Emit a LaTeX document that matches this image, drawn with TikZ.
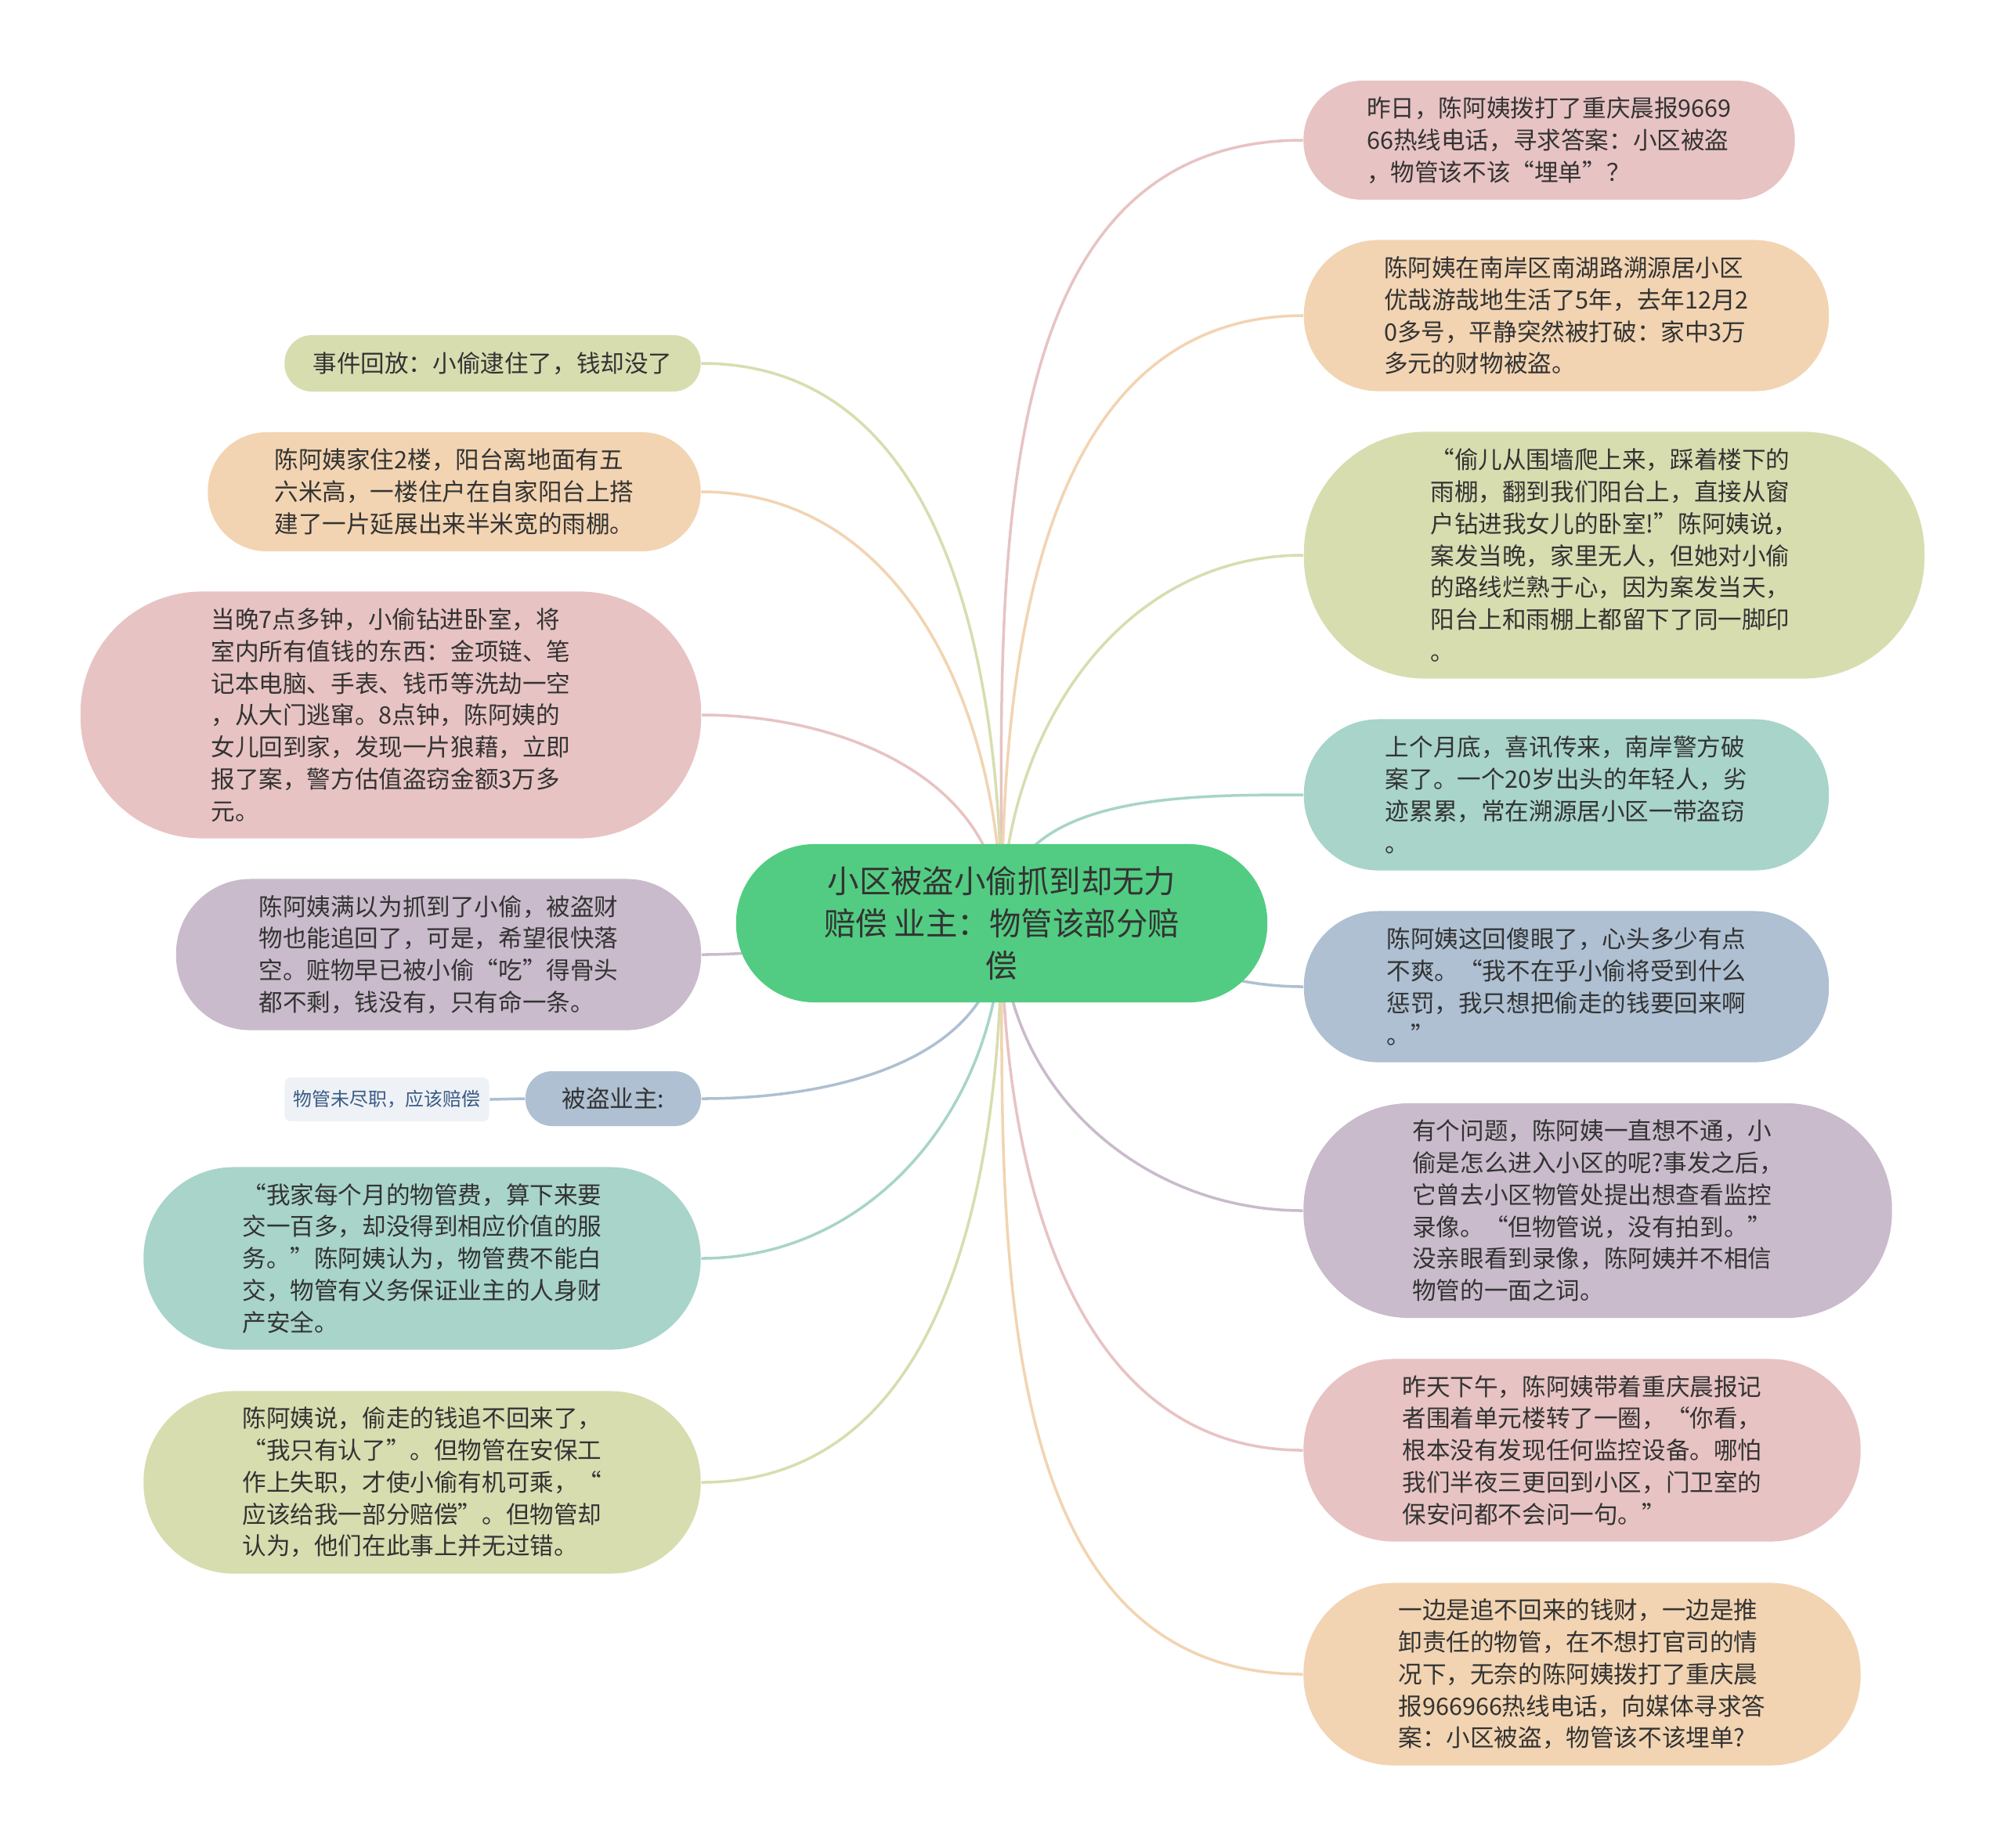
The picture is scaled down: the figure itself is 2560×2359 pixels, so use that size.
\documentclass[tikz,border=0pt]{standalone}
\usepackage{fontspec}
\setmainfont{Noto Sans CJK SC}
\usetikzlibrary{backgrounds}

\definecolor{rootgreen}{HTML}{52CC82}
\definecolor{tpink}{HTML}{E8C3C3}
\definecolor{tpeach}{HTML}{F2D4B2}
\definecolor{tolive}{HTML}{D8DDB0}
\definecolor{tteal}{HTML}{A8D4CA}
\definecolor{tblue}{HTML}{AEC0D2}
\definecolor{tlilac}{HTML}{C9BBCB}
\definecolor{tnote}{HTML}{EEF2F6}
\definecolor{tnotetext}{HTML}{3B5B85}
\definecolor{tink}{HTML}{333333}

\begin{document}
\begin{tikzpicture}[x=0.01cm, y=-0.01cm,
    bubble/.style={rectangle, fill=#1, text=tink, align=left, inner sep=0pt,
      font=\fontsize{8.7pt}{11.6pt}\selectfont},
    link/.style={draw=#1, line width=1pt}]
    \useasboundingbox (0,0) rectangle (2560,2359);

    % Central topic
    \node[bubble=rootgreen, align=center, minimum width=6.78cm, minimum height=2.02cm,
      rounded corners=1.0cm, font=\fontsize{11.5pt}{15.3pt}\selectfont] (root) at (1279,1179)
      {小区被盗小偷抓到却无力\\赔偿 业主：物管该部分赔\\偿};

    % Right branches
    \node[bubble=tpink, minimum width=6.27cm, minimum height=1.52cm, rounded corners=0.75cm] (r1) at (1978,179)
      {昨日，陈阿姨拨打了重庆晨报9669\\66热线电话，寻求答案：小区被盗\\，物管该不该“埋单”？};
    \node[bubble=tpeach, minimum width=6.70cm, minimum height=1.93cm, rounded corners=0.95cm] (r2) at (2000,403)
      {陈阿姨在南岸区南湖路溯源居小区\\优哉游哉地生活了5年，去年12月2\\0多号，平静突然被打破：家中3万\\多元的财物被盗。};
    \node[bubble=tolive, minimum width=7.92cm, minimum height=3.15cm, rounded corners=1.55cm] (r3) at (2061,709)
      {“偷儿从围墙爬上来，踩着楼下的\\雨棚，翻到我们阳台上，直接从窗\\户钻进我女儿的卧室!”陈阿姨说，\\案发当晚，家里无人，但她对小偷\\的路线烂熟于心，因为案发当天，\\阳台上和雨棚上都留下了同一脚印\\。};
    \node[bubble=tteal, minimum width=6.70cm, minimum height=1.93cm, rounded corners=0.95cm] (r4) at (2000,1015)
      {上个月底，喜讯传来，南岸警方破\\案了。一个20岁出头的年轻人，劣\\迹累累，常在溯源居小区一带盗窃\\。};
    \node[bubble=tblue, minimum width=6.70cm, minimum height=1.93cm, rounded corners=0.95cm] (r5) at (2000,1260)
      {陈阿姨这回傻眼了，心头多少有点\\不爽。“我不在乎小偷将受到什么\\惩罚，我只想把偷走的钱要回来啊\\。”};
    \node[bubble=tlilac, minimum width=7.51cm, minimum height=2.74cm, rounded corners=1.35cm] (r6) at (2040,1546)
      {有个问题，陈阿姨一直想不通，小\\偷是怎么进入小区的呢?事发之后，\\它曾去小区物管处提出想查看监控\\录像。“但物管说，没有拍到。”\\没亲眼看到录像，陈阿姨并不相信\\物管的一面之词。};
    \node[bubble=tpink, minimum width=7.11cm, minimum height=2.33cm, rounded corners=1.15cm] (r7) at (2020,1852)
      {昨天下午，陈阿姨带着重庆晨报记\\者围着单元楼转了一圈，“你看，\\根本没有发现任何监控设备。哪怕\\我们半夜三更回到小区，门卫室的\\保安问都不会问一句。”};
    \node[bubble=tpeach, minimum width=7.11cm, minimum height=2.33cm, rounded corners=1.15cm] (r8) at (2020,2138)
      {一边是追不回来的钱财，一边是推\\卸责任的物管，在不想打官司的情\\况下，无奈的陈阿姨拨打了重庆晨\\报966966热线电话，向媒体寻求答\\案：小区被盗，物管该不该埋单?};

    % Left branches
    \node[bubble=tolive, minimum width=5.31cm, minimum height=0.72cm, rounded corners=0.35cm] (l1) at (629,464)
      {事件回放：小偷逮住了，钱却没了};
    \node[bubble=tpeach, minimum width=6.29cm, minimum height=1.52cm, rounded corners=0.75cm] (l2) at (580,628)
      {陈阿姨家住2楼，阳台离地面有五\\六米高，一楼住户在自家阳台上搭\\建了一片延展出来半米宽的雨棚。};
    \node[bubble=tpink, minimum width=7.92cm, minimum height=3.15cm, rounded corners=1.55cm] (l3) at (499,913)
      {当晚7点多钟，小偷钻进卧室，将\\室内所有值钱的东西：金项链、笔\\记本电脑、手表、钱币等洗劫一空\\，从大门逃窜。8点钟，陈阿姨的\\女儿回到家，发现一片狼藉，立即\\报了案，警方估值盗窃金额3万多\\元。};
    \node[bubble=tlilac, minimum width=6.70cm, minimum height=1.93cm, rounded corners=0.95cm] (l4) at (560,1219)
      {陈阿姨满以为抓到了小偷，被盗财\\物也能追回了，可是，希望很快落\\空。赃物早已被小偷“吃”得骨头\\都不剩，钱没有，只有命一条。};
    \node[bubble=tblue, minimum width=2.24cm, minimum height=0.70cm, rounded corners=0.34cm] (l5) at (783,1403)
      {被盗业主:};
    \node[bubble=tnote, text=tnotetext, minimum width=2.61cm, minimum height=0.56cm, rounded corners=0.08cm,
      font=\fontsize{6.8pt}{8pt}\selectfont] (l5c) at (494,1404)
      {物管未尽职，应该赔偿};
    \node[bubble=tteal, minimum width=7.11cm, minimum height=2.33cm, rounded corners=1.15cm] (l6) at (539,1607)
      {“我家每个月的物管费，算下来要\\交一百多，却没得到相应价值的服\\务。”陈阿姨认为，物管费不能白\\交，物管有义务保证业主的人身财\\产安全。};
    \node[bubble=tolive, minimum width=7.11cm, minimum height=2.33cm, rounded corners=1.15cm] (l7) at (539,1893)
      {陈阿姨说，偷走的钱追不回来了，\\“我只有认了”。但物管在安保工\\作上失职，才使小偷有机可乘，“\\应该给我一部分赔偿”。但物管却\\认为，他们在此事上并无过错。};

    % Connectors behind the bubbles
    \begin{pgfonlayer}{background}
      \draw[link=tpink] (root.center) to[out=90,in=180] (r1.west);
      \draw[link=tpeach] (root.center) to[out=90,in=180] (r2.west);
      \draw[link=tolive] (root.center) to[out=90,in=180] (r3.west);
      \draw[link=tteal] (root.center) to[out=90,in=180] (r4.west);
      \draw[link=tblue] (root.center) to[out=0,in=180] (r5.west);
      \draw[link=tlilac] (root.center) to[out=270,in=180] (r6.west);
      \draw[link=tpink] (root.center) to[out=270,in=180] (r7.west);
      \draw[link=tpeach] (root.center) to[out=270,in=180] (r8.west);

      \draw[link=tolive] (root.center) to[out=90,in=0] (l1.east);
      \draw[link=tpeach] (root.center) to[out=90,in=0] (l2.east);
      \draw[link=tpink] (root.center) to[out=90,in=0] (l3.east);
      \draw[link=tlilac] (root.center) to[out=180,in=0] (l4.east);
      \draw[link=tblue] (root.center) to[out=270,in=0] (l5.east);
      \draw[link=tteal] (root.center) to[out=270,in=0] (l6.east);
      \draw[link=tolive] (root.center) to[out=270,in=0] (l7.east);
      \draw[link=tblue] (l5.west) -- (l5c.east);
    \end{pgfonlayer}
\end{tikzpicture}
\end{document}
